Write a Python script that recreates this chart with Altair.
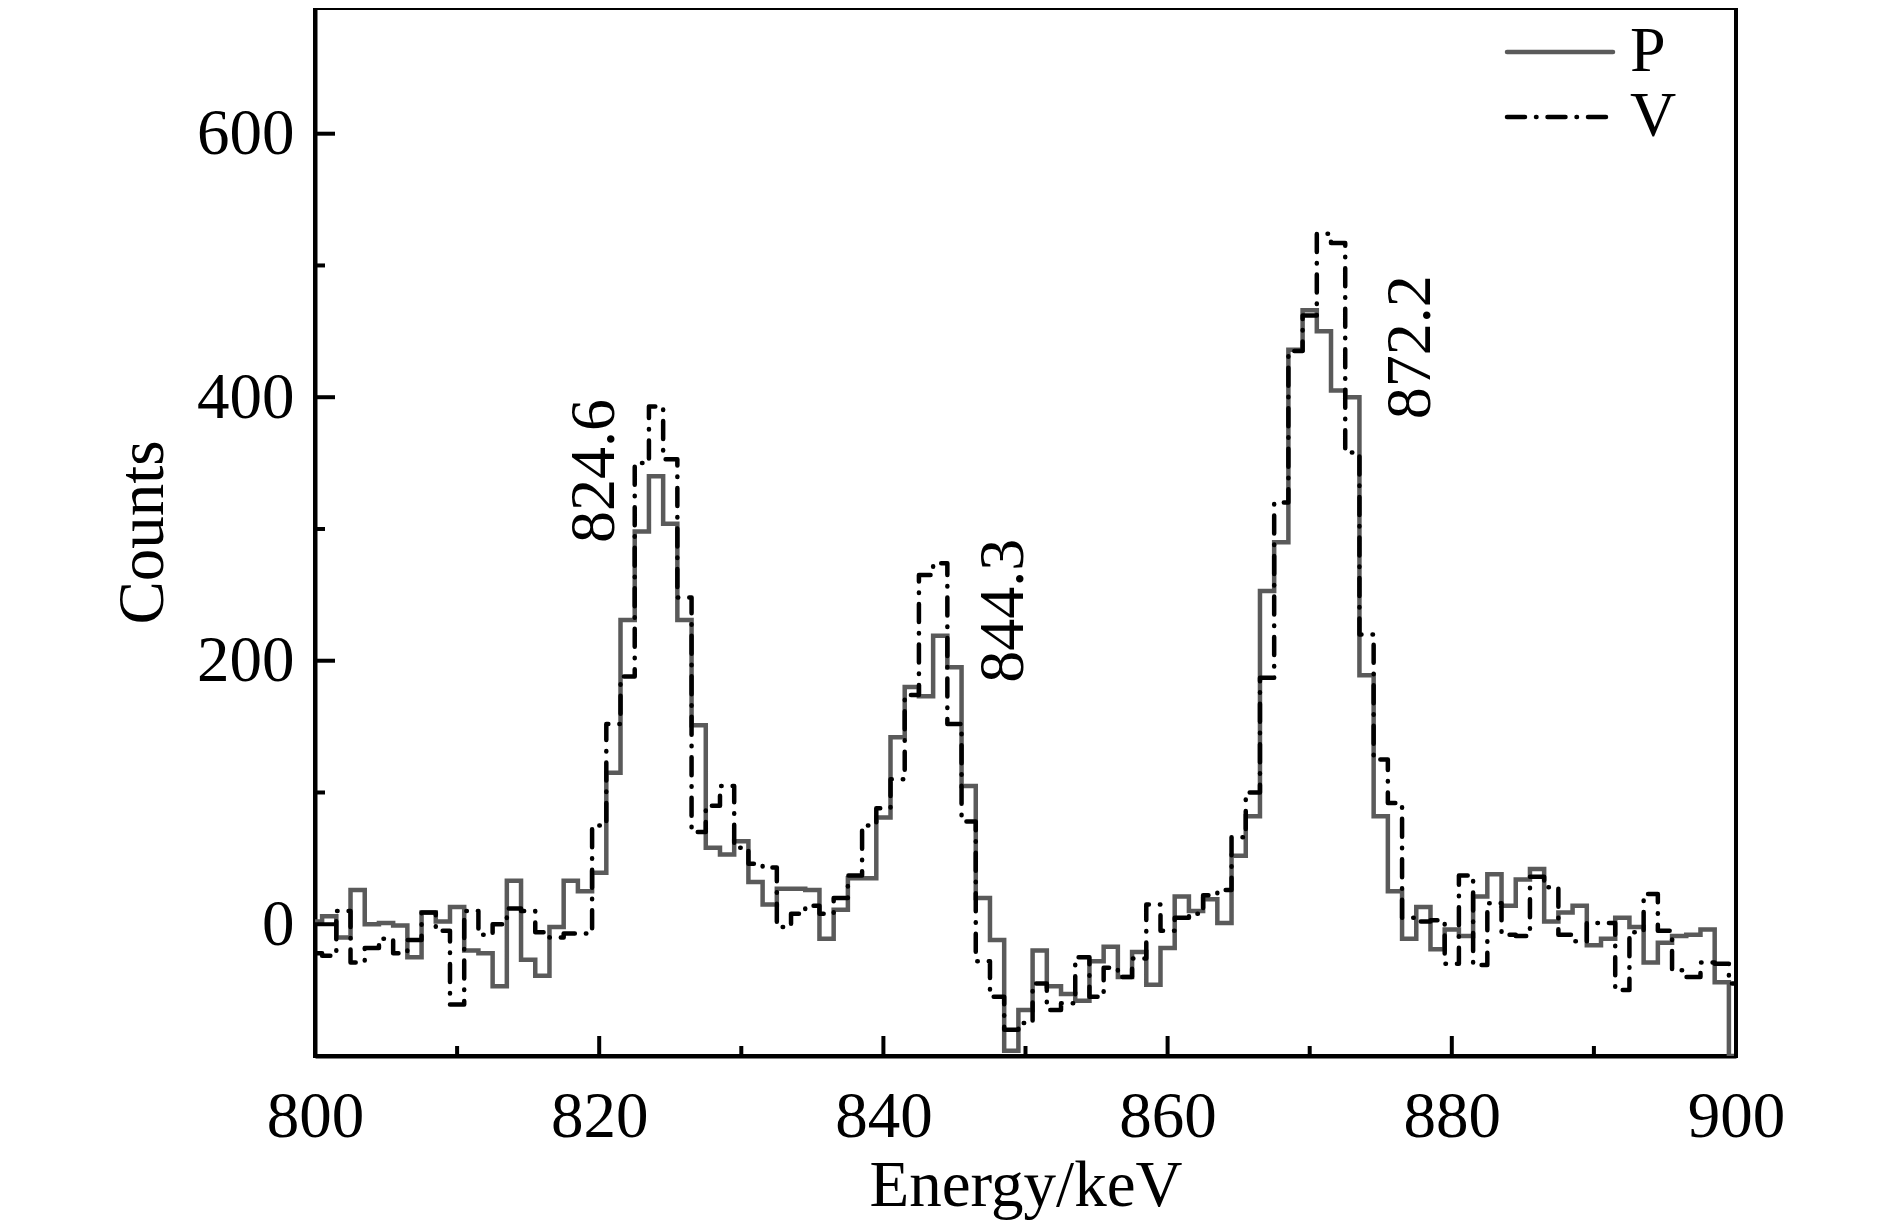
import altair as alt
import pandas as pd

# ---- data ----
energy_kev = list(range(800, 901))  # 1 keV bins, centres

p_counts = [
    2, 6, -10, 26, 0, 1, -1, -25, 9, 2,
    13, -20, -22, -47, 33, -27, -39, -2, 33, 25,
    39, 115, 231, 298, 340, 304, 231, 151, 58, 53,
    63, 32, 15, 27, 27, 26, -11, 11, 35, 35,
    81, 142, 180, 173, 219, 195, 105, 20, -12, -96,
    -65, -20, -47, -53, -58, -28, -17, -40, -21, -46,
    -18, 21, 10, 19, 1, 52, 82, 253, 290, 436,
    466, 450, 405, 400, 189, 82, 25, -11, 13, -19,
    -4, -9, 21, 38, 14, 34, 42, 2, 9, 14,
    -16, -11, 5, -2, -29, -14, -9, -8, -4, -44,
    -100,
]

v_counts = [
    -22, -24, 10, -29, -18, -11, -22, -12, 9, -5,
    -61, 10, -8, 0, 12, 10, -6, -10, -7, -7,
    75, 152, 188, 350, 393, 353, 248, 70, 90, 105,
    58, 46, 43, -2, 8, 14, 8, 20, 37, 75,
    88, 110, 174, 265, 274, 152, 78, -28, -55, -80,
    -75, -45, -65, -60, -25, -55, -33, -40, -26, 15,
    -5, 5, 8, 22, 26, 66, 100, 187, 320, 435,
    462, 524, 517, 358, 220, 125, 92, 5, 2, 3,
    -30, 37, -31, 16, -8, -9, 36, 28, -8, -13,
    1, 1, -50, -6, 23, -5, -35, -40, -29, -30,
    -45,
]

series_names = ["P", "V"]

x_major = [800, 820, 840, 860, 880, 900]
x_minor = [810, 830, 850, 870, 890]
y_major = [0, 200, 400, 600]
y_minor = [100, 300, 500]

peak_labels = ["824.6", "844.3", "872.2"]
peak_label_x = [819.7, 848.5, 877.1]
peak_label_y = [344, 238, 438]

# ---- styling ----
W, H = 1421, 1048
FONT = "Liberation Serif"
FS = 65
P_COLOR = "#5a5a5a"
V_COLOR = "#000000"
V_DASH = [18, 11, 0.5, 11]

rows = []
for i, e in enumerate(energy_kev):
    rows.append({"series": "P", "energy": e, "counts": p_counts[i], "idx": i})
for i, e in enumerate(energy_kev):
    rows.append({"series": "V", "energy": e, "counts": v_counts[i], "idx": i})
df = pd.DataFrame(rows)

xscale = alt.Scale(domain=[800, 900], nice=False, zero=False)
yscale = alt.Scale(domain=[-100, 695.4], nice=False, zero=False)

x_axis = alt.Axis(values=x_major, format="d", title="Energy/keV", grid=False,
                  ticks=False, tickSize=0, domain=True, domainColor="black",
                  domainWidth=4, labelFont=FONT, labelFontSize=FS,
                  labelColor="black", labelPadding=29, titleFont=FONT,
                  titleFontSize=FS, titleFontWeight="normal", titleColor="black",
                  titlePadding=5, labelFlush=False)
y_axis = alt.Axis(values=y_major, format="d", title="Counts", grid=False,
                  ticks=False, tickSize=0, domain=True, domainColor="black",
                  domainWidth=4, labelFont=FONT, labelFontSize=FS,
                  labelColor="black", labelPadding=21, titleFont=FONT,
                  titleFontSize=FS, titleFontWeight="normal", titleColor="black",
                  titlePadding=20, labelFlush=False)


def X(field):
    return alt.X(field, scale=xscale, axis=x_axis)


def Y(field):
    return alt.Y(field, scale=yscale, axis=y_axis)


p_line = alt.Chart(df[df.series == "P"]).mark_line(
    interpolate="step", strokeWidth=4.5, color=P_COLOR, clip=True,
    strokeJoin="miter", strokeCap="butt"
).encode(x=X("energy:Q"), y=Y("counts:Q"), order="idx:Q")

v_line = alt.Chart(df[df.series == "V"]).mark_line(
    interpolate="step", strokeWidth=4.5, color=V_COLOR, clip=True,
    strokeDash=V_DASH, strokeCap="round", strokeJoin="round"
).encode(x=X("energy:Q"), y=Y("counts:Q"), order="idx:Q")

xt_major = alt.Chart(pd.DataFrame({"energy": x_major})).mark_rule(
    color="black", strokeWidth=4).encode(
    x=X("energy:Q"), y=alt.value(H), y2=alt.value(H - 20))
xt_minor = alt.Chart(pd.DataFrame({"energy": x_minor})).mark_rule(
    color="black", strokeWidth=4).encode(
    x=X("energy:Q"), y=alt.value(H), y2=alt.value(H - 10))
yt_major = alt.Chart(pd.DataFrame({"counts": y_major})).mark_rule(
    color="black", strokeWidth=4).encode(
    y=Y("counts:Q"), x=alt.value(0), x2=alt.value(20))
yt_minor = alt.Chart(pd.DataFrame({"counts": y_minor})).mark_rule(
    color="black", strokeWidth=4).encode(
    y=Y("counts:Q"), x=alt.value(0), x2=alt.value(10))

ann = alt.Chart(pd.DataFrame({"t": peak_labels, "energy": peak_label_x,
                              "counts": peak_label_y})).mark_text(
    angle=270, font=FONT, fontSize=64, color="black", align="center", baseline="middle"
).encode(x=X("energy:Q"), y=Y("counts:Q"), text="t:N")

# legend (drawn manually: line sample + label)
leg_p_line = alt.Chart(pd.DataFrame({"s": [series_names[0]]})).mark_rule(
    color=P_COLOR, strokeWidth=4.5, strokeCap="round").encode(
    x=alt.value(1192), x2=alt.value(1298), y=alt.value(44))
leg_v_line = alt.Chart(pd.DataFrame({"s": [series_names[1]]})).mark_rule(
    color=V_COLOR, strokeWidth=4.5, strokeDash=V_DASH, strokeCap="round").encode(
    x=alt.value(1192), x2=alt.value(1298), y=alt.value(109))
leg_p_text = alt.Chart(pd.DataFrame({"s": [series_names[0]]})).mark_text(
    font=FONT, fontSize=64, color="black", align="left", baseline="middle").encode(
    x=alt.value(1315), y=alt.value(44), text="s:N")
leg_v_text = alt.Chart(pd.DataFrame({"s": [series_names[1]]})).mark_text(
    font=FONT, fontSize=64, color="black", align="left", baseline="middle").encode(
    x=alt.value(1315), y=alt.value(109), text="s:N")

chart = alt.layer(
    p_line, v_line, xt_major, xt_minor, yt_major, yt_minor, ann,
    leg_p_line, leg_v_line, leg_p_text, leg_v_text
).properties(
    width=W, height=H,
    autosize=alt.AutoSizeParams(type="none"),
    padding={"left": 307, "top": 0, "right": 140, "bottom": 166},
    background="white",
).configure_view(
    stroke="black", strokeWidth=4
).configure_text(
    font=FONT
)

chart.save("out.html", embed_options={"renderer": "svg", "actions": False})
